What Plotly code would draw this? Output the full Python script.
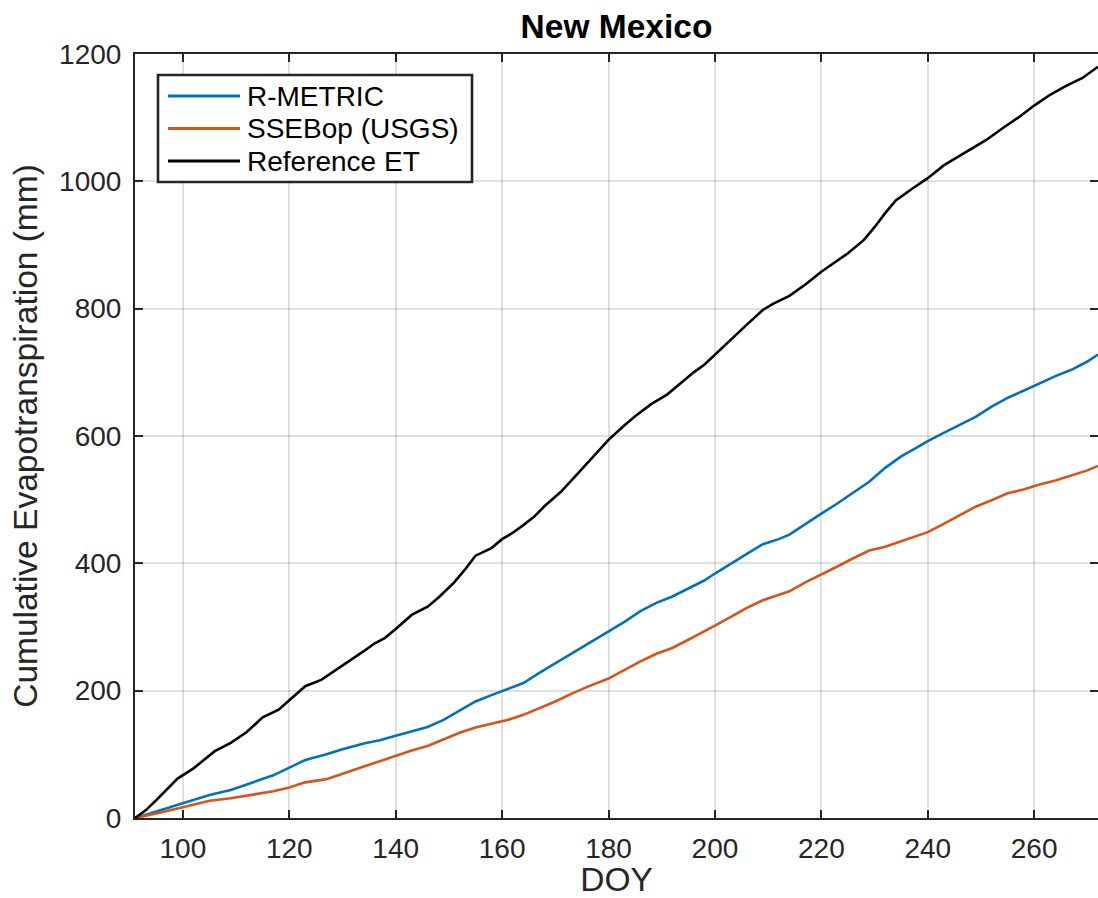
import plotly.graph_objects as go

# ---- data ----
ref_doy = [91, 93, 95, 97, 99, 102, 104, 106, 109, 112, 115, 118, 120, 123, 126, 128, 131, 134, 136, 138,
           140, 143, 146, 148, 151, 153, 155, 158, 160, 162, 164, 166, 168, 171, 173, 175, 178, 180, 183, 185,
           188, 191, 194, 196, 198, 200, 203, 206, 209, 211, 214, 217, 220, 222, 225, 228, 230, 232, 234, 237,
           240, 243, 246, 248, 251, 254, 257, 260, 263, 266, 269, 272]
ref_et = [0, 12, 28, 45, 62, 78, 92, 105, 118, 135, 158, 170, 185, 207, 217, 228, 245, 262, 274, 283,
          297, 319, 332, 346, 370, 390, 412, 424, 438, 448, 460, 473, 490, 512, 530, 548, 575, 594, 617, 631,
          650, 665, 686, 700, 712, 728, 752, 775, 798, 808, 820, 838, 858, 870, 887, 908, 928, 950, 970, 988,
          1005, 1025, 1040, 1050, 1065, 1083, 1100, 1119, 1136, 1150, 1162, 1180]

rm_doy = [91, 95, 100, 105, 109, 113, 117, 120, 123, 127, 130, 134, 137, 140, 143, 146, 149, 152, 155, 158,
          161, 164, 167, 170, 173, 176, 180, 183, 186, 189, 192, 195, 198, 200, 203, 206, 209, 212, 214, 217,
          220, 223, 226, 229, 232, 235, 238, 240, 243, 246, 249, 252, 255, 258, 261, 264, 267, 270, 272]
rm_et = [0, 10, 23, 36, 44, 56, 67, 79, 91, 100, 108, 117, 122, 129, 136, 143, 154, 168, 183, 193,
         203, 212, 228, 243, 258, 272, 292, 308, 325, 338, 348, 360, 373, 384, 400, 415, 430, 438, 445, 462,
         478, 494, 511, 528, 550, 568, 582, 592, 605, 618, 630, 646, 660, 671, 683, 694, 704, 717, 728]

ss_doy = rm_doy
ss_et = [0, 7, 17, 27, 31, 37, 42, 48, 56, 61, 70, 81, 89, 98, 106, 113, 123, 134, 142, 148,
         154, 162, 172, 183, 195, 206, 219, 233, 246, 258, 267, 280, 293, 302, 316, 330, 342, 350, 356, 370,
         382, 395, 408, 420, 426, 435, 443, 449, 462, 476, 489, 499, 510, 516, 524, 530, 538, 546, 553]

series_names = ["R-METRIC", "SSEBop (USGS)", "Reference ET"]
series_colors = ["#0072BD", "#D95319", "#000000"]

x_ticks = [100, 120, 140, 160, 180, 200, 220, 240, 260]
y_ticks = [0, 200, 400, 600, 800, 1000, 1200]

FONT = "Liberation Sans, Arial, Helvetica, sans-serif"
TXT = "#262626"
W, H = 1098, 898
ML, MR, MT, MB = 135, 0, 54, 80
PW, PH = W - ML - MR, H - MT - MB

fig = go.Figure()
for name, color, xs, ys in zip(series_names, series_colors,
                               [rm_doy, ss_doy, ref_doy], [rm_et, ss_et, ref_et]):
    fig.add_trace(go.Scatter(x=xs, y=ys, mode="lines", name=name, showlegend=False,
                             line=dict(color=color, width=2.6)))

# invisible trace to hold the right-side tick axis
fig.add_trace(go.Scatter(x=[], y=[], yaxis="y2", showlegend=False, hoverinfo="skip"))


def px2paper(px, py):
    return (px - ML) / PW, (H - MB - py) / PH


# ---- legend box (drawn in paper coordinates, styled like the reference) ----
shapes = []
bx0, by0 = px2paper(158, 182)
bx1, by1 = px2paper(472, 75)
shapes.append(dict(type="rect", xref="paper", yref="paper", x0=bx0, y0=by0, x1=bx1, y1=by1,
                   fillcolor="white", line=dict(color=TXT, width=2.6), layer="above"))
annotations = []
entry_y = [96, 128.5, 161]
for name, color, ey in zip(series_names, series_colors, entry_y):
    lx0, ly = px2paper(168, ey)
    lx1, _ = px2paper(240, ey)
    shapes.append(dict(type="line", xref="paper", yref="paper", x0=lx0, x1=lx1, y0=ly, y1=ly,
                       line=dict(color=color, width=2.8), layer="above"))
    tx, _ = px2paper(245, ey)
    annotations.append(dict(text=name, xref="paper", yref="paper", x=tx, y=ly,
                            xanchor="left", yanchor="middle", showarrow=False,
                            font=dict(size=28, color="#000000", family=FONT)))

grid = "rgba(38,38,38,0.14)"
fig.update_layout(
    width=W, height=H,
    margin=dict(l=ML, r=MR, t=MT, b=MB),
    paper_bgcolor="white", plot_bgcolor="white",
    font=dict(family=FONT, size=28, color=TXT),
    showlegend=False,
    title=dict(text="<b>New Mexico</b>", x=0.5, xref="paper", xanchor="center",
               y=1 - 26 / H, yref="container", yanchor="middle",
               font=dict(size=33.5, color="#000000")),
    xaxis=dict(range=[91, 272], tickvals=x_ticks, ticks="inside", ticklen=8, tickwidth=2,
               tickcolor=TXT, showline=True, linewidth=2, linecolor=TXT, mirror="ticks",
               showgrid=True, gridcolor=grid, gridwidth=2, zeroline=False,
               ticklabelstandoff=4,
               title=dict(text="DOY", standoff=3, font=dict(size=33.5)),
               tickfont=dict(size=28)),
    yaxis=dict(range=[0, 1200], tickvals=y_ticks, ticks="inside", ticklen=8, tickwidth=2,
               tickcolor=TXT, showline=True, linewidth=2, linecolor=TXT, mirror=False,
               showgrid=True, gridcolor=grid, gridwidth=2, zeroline=False,
               ticklabelstandoff=6,
               title=dict(text="Cumulative Evapotranspiration (mm)", standoff=11, font=dict(size=33.5)),
               tickfont=dict(size=28)),
    yaxis2=dict(range=[0, 1200], tickvals=y_ticks, overlaying="y", side="right", anchor="x",
                ticks="inside", ticklen=8, tickwidth=2, tickcolor=TXT, showticklabels=False,
                showline=False, showgrid=False, zeroline=False),
    shapes=shapes,
    annotations=annotations,
)

fig.write_html("out.html")
